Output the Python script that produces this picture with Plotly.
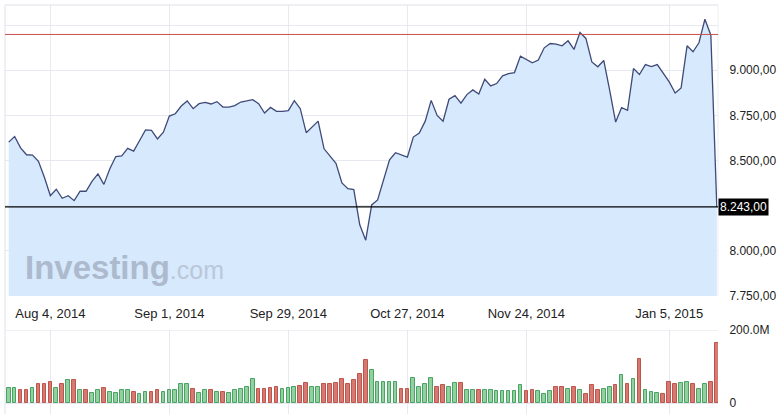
import pandas as pd
import plotly.graph_objects as go

# ---- data ----
holidays = ["2014-08-01", "2014-12-24", "2014-12-25", "2014-12-26",
            "2014-12-31", "2015-01-01", "2015-01-02"]
days = pd.bdate_range("2014-07-23", "2015-01-15")
dates = [d.strftime("%Y-%m-%d") for d in days if d.strftime("%Y-%m-%d") not in holidays]

close = [8602, 8633, 8570, 8532, 8530, 8496, 8407, 8305, 8341, 8291,
         8305, 8278, 8330, 8330, 8385, 8426, 8368, 8454, 8522, 8526,
         8567, 8552, 8611, 8670, 8667, 8620, 8657, 8746, 8759, 8802,
         8830, 8787, 8815, 8822, 8813, 8826, 8796, 8796, 8804, 8824,
         8830, 8837, 8815, 8763, 8794, 8772, 8772, 8776, 8832, 8787,
         8654, 8685, 8718, 8565, 8522, 8485, 8376, 8344, 8339, 8144,
         8059, 8254, 8282, 8398, 8504, 8543, 8532, 8519, 8630, 8652,
         8718, 8833, 8750, 8718, 8839, 8859, 8818, 8865, 8891, 8868,
         8950, 8913, 8926, 8969, 8981, 8987, 9078, 9059, 9041, 9056,
         9124, 9148, 9144, 9135, 9163, 9115, 9209, 9176, 9046, 9019,
         9054, 8889, 8713, 8793, 8778, 9009, 8976, 9031, 9020, 9031,
         8981, 8935, 8874, 8902, 9135, 9102, 9152, 9282, 9194, 8243]

volume_m = [41, 41, 36, 36, 41, 52, 52, 57, 41, 52,
            64, 64, 36, 36, 27, 36, 41, 31, 27, 36,
            36, 31, 25, 31, 31, 36, 31, 36, 36, 52,
            52, 39, 27, 36, 36, 31, 31, 27, 36, 39,
            44, 67, 38, 38, 41, 44, 38, 41, 44, 47,
            56, 44, 44, 53, 53, 56, 66, 53, 64, 80,
            119, 91, 57, 57, 57, 57, 38, 39, 68, 44,
            53, 68, 44, 50, 44, 55, 55, 37, 37, 37,
            37, 37, 32, 32, 32, 32, 50, 32, 37, 32,
            26, 32, 44, 44, 39, 44, 37, 26, 50, 37,
            39, 44, 50, 77, 53, 66, 121, 37, 29, 27,
            26, 57, 53, 55, 57, 53, 39, 53, 57, 164]

volume_dir = list("GGRRGRRRGRGRGRGGRGGG"
                  "GRGGRRGGGGGRGGRGRGGG"
                  "GGRRRRGGGRRGGRRRRRRR"
                  "RGGGGGRRGGGGRRGGRGGR"
                  "GGGGGGGRRGGGRRGRGRRR"
                  "GGRGRGRGGGRRRGGRGGRR")

tick_dates = ["2014-08-04", "2014-09-01", "2014-09-29", "2014-10-27", "2014-11-24", "2015-01-05"]
tick_labels = ["Aug 4, 2014", "Sep 1, 2014", "Sep 29, 2014", "Oct 27, 2014", "Nov 24, 2014", "Jan 5, 2015"]

price_ticks = [7750, 8000, 8250, 8500, 8750, 9000, 9250]
price_tick_text = ["7.750,00", "8.000,00", "", "8.500,00", "8.750,00", "9.000,00", ""]
last_price = 8243
prev_close = 9198
last_label = "8.243,00"

# ---- figure ----
GRID = "#e6e9ef"
FONT = "Liberation Sans, Arial, sans-serif"

fig = go.Figure()
fig.add_trace(go.Scatter(
    x=dates, y=close, mode="lines", fill="tozeroy",
    fillcolor="rgba(214,233,253,1)",
    line=dict(color="#3f4a78", width=1.3),
    xaxis="x", yaxis="y", hoverinfo="skip", showlegend=False))

bar_fill = ["#93d0a0" if d == "G" else "#d47a72" for d in volume_dir]
bar_line = ["#47a462" if d == "G" else "#c0544b" for d in volume_dir]
fig.add_trace(go.Bar(
    x=dates, y=volume_m, width=0.62,
    marker=dict(color=bar_fill, line=dict(color=bar_line, width=1)),
    xaxis="x2", yaxis="y2", hoverinfo="skip", showlegend=False))

xr = [-0.62, 119.2]
fig.update_layout(
    width=783, height=414,
    margin=dict(l=5, r=65, t=5, b=0, autoexpand=False),
    paper_bgcolor="white", plot_bgcolor="white",
    font=dict(family=FONT, size=12, color="#222"),
    bargap=0,
    xaxis=dict(type="category", range=xr, anchor="y", automargin=False,
               tickvals=tick_dates, ticktext=tick_labels,
               ticks="outside", ticklen=5, tickcolor="rgba(0,0,0,0)",
               showgrid=True, gridcolor=GRID, gridwidth=1,
               showline=False, zeroline=False,
               tickfont=dict(size=13, color="#222")),
    xaxis2=dict(type="category", range=xr, anchor="y2", matches="x", automargin=False,
                tickvals=tick_dates, showticklabels=False,
                showgrid=True, gridcolor=GRID, gridwidth=1,
                showline=False, zeroline=False),
    yaxis=dict(domain=[0.2885, 1], range=[7750, 9361], side="right", automargin=False,
               tickvals=price_ticks, ticktext=price_tick_text,
               ticks="outside", ticklen=8, tickcolor="rgba(0,0,0,0)",
               showgrid=True, gridcolor=GRID, gridwidth=1,
               zeroline=False, showline=False,
               tickfont=dict(size=12, color="#222")),
    yaxis2=dict(domain=[0, 0.2054], range=[-30.1, 200], side="right", automargin=False,
                tickvals=[0, 200], ticktext=["0", "200.0M"],
                ticks="outside", ticklen=8, tickcolor="rgba(0,0,0,0)",
                showgrid=False, zeroline=True, zerolinecolor=GRID,
                showline=False,
                tickfont=dict(size=12, color="#222")),
)

shapes = [
    # frame lines
    dict(type="line", xref="paper", yref="paper", x0=0, x1=0, y0=0, y1=1,
         line=dict(color="#dde1e7", width=1)),
    dict(type="line", xref="paper", yref="paper", x0=0, x1=1, y0=1, y1=1,
         line=dict(color="#dde1e7", width=1)),
    dict(type="line", xref="paper", yref="paper", x0=1, x1=1, y0=0.2885, y1=1,
         line=dict(color="#eceff3", width=1)),
    dict(type="line", xref="paper", yref="y2", x0=0, x1=1, y0=200, y1=200,
         line=dict(color="#dde1e7", width=1)),
    # previous close & last price lines
    dict(type="line", xref="paper", yref="y", x0=0, x1=1, y0=prev_close, y1=prev_close,
         line=dict(color="#c9504a", width=1)),
    dict(type="line", xref="paper", yref="y", x0=0, x1=1, y0=last_price, y1=last_price,
         line=dict(color="#000000", width=1.2)),
]
fig.update_layout(shapes=shapes)

fig.add_annotation(xref="paper", yref="y", x=1, y=last_price, xanchor="left",
                   yanchor="middle", text=last_label, showarrow=False,
                   bgcolor="#000000", font=dict(color="white", size=12, family=FONT),
                   borderpad=1)

fig.add_annotation(xref="paper", yref="paper", x=0.025, y=0.357, xanchor="left",
                   yanchor="middle", showarrow=False,
                   text="<b>Investing</b><span style='font-size:25px;color:#bac7d9'>.com</span>",
                   font=dict(size=33, color="#adbacd", family=FONT))

fig.write_html("out.html", config={"displayModeBar": False},
               post_script="document.body.style.margin='0';document.body.style.padding='0';")
